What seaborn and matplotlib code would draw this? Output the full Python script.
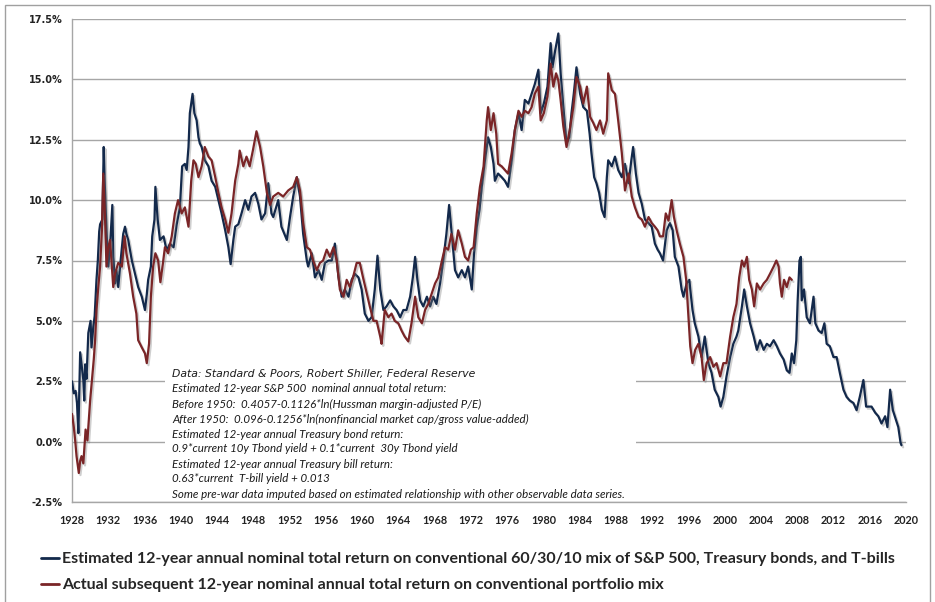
import matplotlib
matplotlib.use("Agg")
import matplotlib.pyplot as plt
import matplotlib.patheffects as pe
from matplotlib.lines import Line2D
from matplotlib.patches import Rectangle
from matplotlib import font_manager as fm
import numpy as np
import pandas as pd
import seaborn as sns

# ---------------- data ----------------
series_names = [
    "Estimated 12-year annual nominal total return on conventional 60/30/10 mix of S&P 500, Treasury bonds, and T-bills",
    "Actual subsequent 12-year nominal annual total return on conventional portfolio mix",
]

est_years = [
    1928.0, 1928.2, 1928.4, 1928.55, 1928.7, 1928.9, 1929.05, 1929.25, 1929.35, 1929.45,
    1929.6, 1929.8, 1930.05, 1930.15, 1930.35, 1930.5, 1930.7, 1930.85, 1931.0, 1931.1,
    1931.35, 1931.5, 1931.6, 1931.8, 1932.0, 1932.2, 1932.45, 1932.55, 1932.75, 1932.9,
    1933.1, 1933.3, 1933.65, 1933.85, 1934.0, 1934.2, 1934.6, 1934.95, 1935.3, 1935.7,
    1936.05, 1936.25, 1936.4, 1936.7, 1936.85, 1937.1, 1937.2, 1937.45, 1937.7, 1938.1,
    1938.45, 1938.8, 1939.2, 1939.55, 1939.9, 1940.15, 1940.45, 1940.65, 1940.85, 1941.0,
    1941.3, 1941.5, 1941.75, 1941.95, 1942.1, 1942.3, 1942.65, 1943.05, 1943.4, 1943.8,
    1944.15, 1944.5, 1944.9, 1945.25, 1945.5, 1945.8, 1946.0, 1946.35, 1946.7, 1947.1,
    1947.45, 1947.8, 1948.2, 1948.55, 1948.9, 1949.3, 1949.65, 1950.0, 1950.2, 1950.75,
    1951.1, 1951.7, 1952.05, 1952.4, 1952.8, 1953.15, 1953.5, 1953.9, 1954.05, 1954.45,
    1954.8, 1955.2, 1955.55, 1955.9, 1956.3, 1956.65, 1957.0, 1957.4, 1957.75, 1958.1,
    1958.5, 1958.85, 1959.2, 1959.6, 1959.95, 1960.3, 1960.7, 1961.05, 1961.4, 1961.7,
    1962.0, 1962.35, 1962.7, 1963.1, 1963.45, 1963.8, 1964.2, 1964.55, 1964.9, 1965.3,
    1965.6, 1965.85, 1966.1, 1966.4, 1966.75, 1967.15, 1967.5, 1967.85, 1968.2, 1968.6,
    1968.95, 1969.3, 1969.6, 1969.85, 1970.25, 1970.6, 1971.0, 1971.35, 1971.7, 1972.1,
    1972.35, 1972.65, 1972.95, 1973.2, 1973.55, 1973.9, 1974.2, 1974.5, 1974.65, 1975.0,
    1975.4, 1975.75, 1976.1, 1976.5, 1976.85, 1977.25, 1977.6, 1977.95, 1978.35, 1978.7,
    1979.05, 1979.45, 1979.7, 1980.05, 1980.45, 1980.8, 1981.0, 1981.3, 1981.65, 1981.9,
    1982.2, 1982.55, 1982.85, 1983.1, 1983.35, 1983.65, 1984.05, 1984.4, 1984.8, 1985.1,
    1985.3, 1985.6, 1985.85, 1986.15, 1986.45, 1986.75, 1987.0, 1987.15, 1987.55, 1987.9,
    1988.25, 1988.65, 1989.0, 1989.4, 1989.7, 1989.9, 1990.2, 1990.5, 1990.85, 1991.2,
    1991.6, 1991.95, 1992.3, 1992.6, 1992.85, 1993.2, 1993.6, 1993.96, 1994.26, 1994.5,
    1994.9, 1995.25, 1995.45, 1995.8, 1996.1, 1996.2, 1996.45, 1996.7, 1997.1, 1997.45,
    1997.8, 1998.2, 1998.55, 1998.9, 1999.3, 1999.55, 1999.85, 2000.2, 2000.6, 2000.95,
    2001.3, 2001.5, 2001.9, 2002.15, 2002.45, 2002.8, 2003.2, 2003.55, 2003.9, 2004.3,
    2004.65, 2005.0, 2005.4, 2005.75, 2006.1, 2006.5, 2006.85, 2007.15, 2007.4, 2007.65,
    2007.9, 2008.05, 2008.25, 2008.4, 2008.5, 2008.75, 2009.05, 2009.4, 2009.8, 2010.0,
    2010.35, 2010.7, 2011.0, 2011.25, 2011.6, 2012.0, 2012.35, 2012.7, 2013.1, 2013.45,
    2013.8, 2014.2, 2014.55, 2014.9, 2015.3, 2015.6, 2015.85, 2016.2, 2016.6, 2016.95,
    2017.3, 2017.7, 2017.95, 2018.25, 2018.55, 2018.9, 2019.15, 2019.4, 2019.5,
]
est_values = [
    2.5, 2.0, 2.1, 1.6, 0.35, 3.7, 3.2, 2.55, 1.7, 3.2,
    2.6, 4.5, 5.0, 3.9, 4.75, 5.2, 6.7, 7.5, 8.7, 9.0,
    9.2, 12.2, 10.8, 8.75, 7.25, 8.1, 9.8, 7.65, 6.55, 7.1,
    6.4, 7.25, 8.6, 8.9, 8.6, 8.35, 7.5, 6.95, 6.4, 6.0,
    5.45, 6.1, 6.7, 7.25, 8.5, 9.2, 10.55, 9.2, 8.35, 8.5,
    7.9, 8.2, 8.05, 9.0, 9.7, 11.4, 11.5, 11.25, 12.2, 13.6,
    14.4, 13.6, 13.3, 12.6, 12.35, 12.2, 11.65, 11.4, 10.8, 10.55,
    10.0, 9.45, 8.75, 8.05, 7.35, 8.35, 8.9, 9.0, 9.45, 10.0,
    9.6, 10.15, 10.3, 9.85, 9.2, 9.45, 10.7, 9.45, 9.3, 10.0,
    8.9, 8.35, 9.3, 10.15, 10.95, 10.15, 8.6, 7.5, 7.25, 7.8,
    6.8, 7.1, 6.7, 7.4, 7.5, 7.5, 8.2, 6.8, 6.0, 6.3,
    6.0, 6.7, 6.95, 6.8, 6.3, 5.3, 5.0, 5.15, 6.3, 7.7,
    6.3, 5.45, 5.6, 5.85, 5.6, 5.45, 5.15, 5.45, 5.45, 6.0,
    6.8, 7.65, 6.7, 5.85, 5.6, 6.0, 5.6, 6.0, 5.7, 6.55,
    7.5, 8.6, 9.8, 8.75, 7.1, 6.8, 7.1, 6.8, 7.25, 6.3,
    7.8, 8.9, 9.6, 10.55, 11.65, 12.6, 12.2, 11.5, 10.8, 11.1,
    10.95, 10.8, 10.55, 11.65, 12.9, 13.6, 12.9, 14.15, 14.0, 14.4,
    14.8, 15.4, 13.6, 14.0, 14.7, 16.5, 15.5, 16.2, 16.9, 15.25,
    13.85, 12.35, 12.6, 13.6, 14.4, 15.5, 14.4, 13.85, 13.7, 12.75,
    11.95, 10.95, 10.7, 10.3, 9.6, 9.3, 10.95, 11.65, 11.4, 11.8,
    11.25, 10.95, 11.5, 10.7, 11.65, 12.2, 11.1, 10.3, 9.85, 9.2,
    9.05, 8.9, 8.2, 7.95, 7.8, 7.5, 8.75, 9.05, 8.75, 7.65,
    7.25, 6.3, 6.0, 6.55, 6.7, 6.3, 5.45, 4.9, 4.35, 3.5,
    4.35, 3.25, 2.85, 2.15, 1.85, 1.45, 1.85, 2.7, 3.5, 4.05,
    4.35, 4.6, 5.6, 6.3, 5.6, 4.9, 4.35, 3.8, 4.2, 3.8,
    4.05, 3.95, 4.2, 3.95, 3.65, 3.4, 2.95, 2.85, 3.65, 3.25,
    4.2, 5.85, 7.5, 7.65, 5.85, 6.3, 5.15, 4.9, 6.0, 4.9,
    4.6, 4.5, 4.9, 4.05, 3.95, 3.5, 3.5, 2.85, 2.15, 1.85,
    1.7, 1.6, 1.3, 1.85, 2.55, 1.45, 1.45, 1.45, 1.2, 1.05,
    0.75, 1.05, 0.6, 2.15, 1.3, 0.9, 0.6, -0.05, -0.15,
]

act_years = [
    1928.0, 1928.2, 1928.35, 1928.5, 1928.75, 1928.9, 1929.05, 1929.25, 1929.5, 1929.7,
    1930.0, 1930.2, 1930.4, 1930.55, 1930.7, 1930.9, 1931.1, 1931.3, 1931.45, 1931.65,
    1931.8, 1932.0, 1932.2, 1932.4, 1932.55, 1932.75, 1933.1, 1933.5, 1933.8, 1934.0,
    1934.4, 1934.75, 1935.1, 1935.3, 1935.7, 1936.05, 1936.25, 1936.5, 1936.7, 1936.95,
    1937.2, 1937.5, 1937.75, 1938.0, 1938.25, 1938.6, 1939.0, 1939.35, 1939.7, 1940.1,
    1940.45, 1940.85, 1941.15, 1941.4, 1941.65, 1941.95, 1942.3, 1942.65, 1943.05, 1943.4,
    1943.8, 1944.15, 1944.5, 1944.9, 1945.25, 1945.6, 1946.0, 1946.35, 1946.5, 1946.9,
    1947.25, 1947.6, 1947.95, 1948.35, 1948.75, 1949.1, 1949.5, 1949.85, 1950.2, 1950.75,
    1951.3, 1951.85, 1952.4, 1952.8, 1953.15, 1953.5, 1953.9, 1954.25, 1954.6, 1955.0,
    1955.35, 1955.7, 1956.1, 1956.45, 1956.85, 1957.2, 1957.55, 1957.95, 1958.3, 1958.65,
    1959.0, 1959.4, 1959.75, 1960.1, 1960.5, 1960.85, 1961.25, 1961.6, 1962.0, 1962.15,
    1962.5, 1962.9, 1963.25, 1963.6, 1964.0, 1964.35, 1964.7, 1965.1, 1965.45, 1965.85,
    1966.2, 1966.6, 1966.95, 1967.3, 1967.7, 1968.05, 1968.4, 1968.75, 1969.15, 1969.5,
    1969.85, 1970.25, 1970.6, 1971.0, 1971.35, 1971.7, 1972.0, 1972.3, 1972.65, 1973.0,
    1973.4, 1973.75, 1973.9, 1974.2, 1974.5, 1974.8, 1975.0, 1975.4, 1975.75, 1976.1,
    1976.5, 1976.85, 1977.25, 1977.6, 1977.95, 1978.35, 1978.7, 1979.05, 1979.45, 1979.7,
    1980.05, 1980.45, 1980.8, 1981.1, 1981.4, 1981.65, 1981.9, 1982.2, 1982.55, 1982.9,
    1983.3, 1983.65, 1984.05, 1984.4, 1984.8, 1985.15, 1985.5, 1985.85, 1986.25, 1986.6,
    1987.0, 1987.15, 1987.55, 1987.9, 1988.25, 1988.65, 1989.0, 1989.4, 1989.75, 1990.1,
    1990.5, 1990.85, 1991.2, 1991.6, 1991.95, 1992.3, 1992.6, 1992.85, 1993.2, 1993.5,
    1993.8, 1994.15, 1994.4, 1994.7, 1995.05, 1995.45, 1995.75, 1996.0, 1996.2, 1996.45,
    1996.75, 1997.1, 1997.45, 1997.7, 1998.0, 1998.4, 1998.75, 1999.1, 1999.5, 1999.85,
    2000.2, 2000.6, 2000.95, 2001.3, 2001.6, 2001.9, 2002.15, 2002.45, 2002.7, 2003.0,
    2003.25, 2003.55, 2003.9, 2004.3, 2004.65, 2005.0, 2005.4, 2005.7, 2005.95, 2006.1,
    2006.3, 2006.55, 2006.85, 2007.15, 2007.4,
]
act_values = [
    1.15, 0.6, 0.05, -0.6, -1.3, -0.8, -0.6, -0.9, 0.5, 0.05,
    1.7, 2.55, 3.4, 4.2, 5.45, 6.4, 7.25, 8.75, 11.1, 9.2,
    7.25, 8.05, 8.35, 7.25, 6.4, 6.95, 7.4, 7.25, 8.5, 7.8,
    6.95, 6.0, 5.3, 4.2, 3.9, 3.65, 3.25, 4.05, 6.0, 7.25,
    7.8, 7.5, 6.6, 7.3, 8.05, 7.8, 8.5, 9.45, 10.0, 9.45,
    9.7, 8.9, 10.8, 11.65, 11.5, 10.95, 11.4, 12.2, 11.8, 11.65,
    10.95, 10.3, 9.7, 9.2, 8.65, 9.45, 10.8, 11.5, 12.05, 11.4,
    11.8, 11.4, 12.05, 12.85, 12.2, 11.4, 10.3, 9.8, 10.15, 10.3,
    10.15, 10.4, 10.55, 10.95, 10.4, 9.05, 8.05, 7.95, 7.5, 7.1,
    7.4, 7.5, 7.95, 7.65, 8.05, 7.5, 6.3, 6.0, 6.7, 6.4,
    6.8, 7.4, 7.4, 6.8, 6.15, 5.6, 5.0, 5.0, 4.35, 4.05,
    5.45, 5.15, 5.3, 5.0, 4.9, 4.6, 4.35, 4.15, 4.9, 6.0,
    5.15, 4.9, 5.45, 5.7, 6.15, 6.55, 6.8, 7.4, 8.05, 7.95,
    8.6, 7.95, 8.75, 8.2, 7.65, 7.5, 7.95, 8.05, 9.45, 10.55,
    11.4, 13.3, 13.85, 12.9, 13.6, 12.75, 11.5, 11.4, 11.25, 11.1,
    11.95, 12.9, 13.7, 13.45, 13.7, 13.6, 13.85, 14.4, 14.7, 13.3,
    13.6, 14.3, 15.65, 14.7, 15.25, 14.95, 14.15, 13.05, 12.2, 12.9,
    13.85, 15.1, 14.7, 14.0, 14.7, 13.45, 13.2, 12.9, 13.3, 12.75,
    13.3, 15.25, 14.55, 14.4, 13.3, 11.95, 10.4, 11.1, 10.15, 9.7,
    9.3, 9.2, 8.9, 9.3, 9.05, 8.9, 8.75, 8.5, 8.5, 9.45,
    9.15, 10.0, 9.3, 8.75, 8.2, 7.65, 6.7, 5.15, 3.95, 3.25,
    3.8, 4.05, 3.5, 2.55, 3.25, 3.5, 3.1, 3.25, 2.7, 3.25,
    3.25, 4.35, 5.15, 5.7, 6.8, 7.5, 7.25, 7.65, 6.7, 6.3,
    5.6, 6.55, 6.3, 6.55, 6.7, 6.95, 7.25, 7.5, 7.25, 6.55,
    6.0, 6.7, 6.4, 6.8, 6.7,
]

y_ticks = [-2.5, 0.0, 2.5, 5.0, 7.5, 10.0, 12.5, 15.0, 17.5]
y_tick_labels = ["-2.5%", "0.0%", "2.5%", "5.0%", "7.5%", "10.0%", "12.5%", "15.0%", "17.5%"]
x_ticks = [1928, 1932, 1936, 1940, 1944, 1948, 1952, 1956, 1960, 1964, 1968, 1972,
           1976, 1980, 1984, 1988, 1992, 1996, 2000, 2004, 2008, 2012, 2016, 2020]
x_tick_labels = [str(v) for v in x_ticks]

note_lines = [
    "Data: Standard & Poors, Robert Shiller, Federal Reserve",
    "Estimated 12-year S&P 500  nominal annual total return:",
    "Before 1950:  0.4057-0.1126*ln(Hussman margin-adjusted P/E)",
    "After 1950:  0.096-0.1256*ln(nonfinancial market cap/gross value-added)",
    "Estimated 12-year annual Treasury bond return:",
    "0.9*current 10y Tbond yield + 0.1*current  30y Tbond yield",
    "Estimated 12-year annual Treasury bill return:",
    "0.63*current  T-bill yield + 0.013",
    "Some pre-war data imputed based on estimated relationship with other observable data series.",
]

# ---------------- styling ----------------
BLUE = "#13294b"
RED = "#7a2527"
GRID = "#a6a6a6"

sns.set_style("white")


def has_font(name):
    try:
        fm.findfont(fm.FontProperties(family=name), fallback_to_default=False)
        return True
    except Exception:
        return False


narrow = "Lato" if has_font("Lato") else "DejaVu Sans"
note_font = "Lato" if has_font("Lato") else "DejaVu Sans"
plt.rcParams["font.family"] = ["DejaVu Sans"]

W, H = 935, 602
fig = plt.figure(figsize=(W / 100, H / 100), dpi=100)
L, R, T, B = 72, 906, 19, 502
ax = fig.add_axes([L / W, 1 - B / H, (R - L) / W, (B - T) / H])

df = pd.concat([
    pd.DataFrame({"year": est_years, "value": est_values, "series": series_names[0]}),
    pd.DataFrame({"year": act_years, "value": act_values, "series": series_names[1]}),
])

shadow = [pe.SimpleLineShadow(offset=(1.2, -1.5), shadow_color="#777777", alpha=0.35), pe.Normal()]
for name, col in zip(series_names, [BLUE, RED]):
    sub = df[df["series"] == name]
    sns.lineplot(data=sub, x="year", y="value", ax=ax, color=col, lw=1.6,
                 estimator=None, sort=False, path_effects=shadow, zorder=3)

ax.set_xlim(1928, 2020)
ax.set_ylim(-2.5, 17.5)
ax.set_yticks(y_ticks)
ax.set_yticklabels(y_tick_labels)
ax.set_xticks(x_ticks)
ax.set_xticklabels(x_tick_labels)
ax.set_xlabel("")
ax.set_ylabel("")
ax.yaxis.grid(True, color=GRID, lw=1.0)
ax.xaxis.grid(False)
ax.set_axisbelow(True)
for s in ["top", "right"]:
    ax.spines[s].set_visible(False)
for s in ["left", "bottom"]:
    ax.spines[s].set_color(GRID)
    ax.spines[s].set_linewidth(1.0)
ax.tick_params(axis="y", length=4, color=GRID, width=1, pad=3, labelsize=7, labelcolor="#222222")
ax.tick_params(axis="x", length=0, pad=9, labelsize=7, labelcolor="#222222")
for lab in ax.get_yticklabels() + ax.get_xticklabels():
    lab.set_fontweight("bold")
for lab in ax.get_xticklabels():
    lab.set_family(narrow)
    lab.set_fontsize(7.8)

# white box behind the note text
box = Rectangle((165 / W, 1 - 499 / H), (636 - 165) / W, (499 - 364) / H,
                transform=fig.transFigure, facecolor="white", edgecolor="none", zorder=1)
ax.add_artist(box)
box.set_transform(fig.transFigure)
for i, line in enumerate(note_lines):
    if i == 0:
        fam, size = "DejaVu Sans", 7.8
    else:
        fam, size = note_font, 8.25
    fig.text(172 / W, 1 - (374 + 15 * i) / H, line, ha="left", va="center",
             family=fam, style="italic", fontsize=size, color="#1a1a1a", zorder=5)

handles = [Line2D([0], [0], color=BLUE, lw=2.0), Line2D([0], [0], color=RED, lw=2.0)]
fig.legend(handles, series_names, loc="upper left", bbox_to_anchor=(41 / W, 1 - 552 / H),
           frameon=False, handlelength=1.15, handletextpad=0.15, labelspacing=0.75,
           borderaxespad=0, borderpad=0,
           prop=dict(family=narrow, weight="bold", size=11.5))

# outer chart border
border = Rectangle((5 / W, -0.02), (930 - 5) / W, 1.02 - 5 / H, transform=fig.transFigure,
                   fill=False, edgecolor="#a0a0a0", lw=1.0)
fig.add_artist(border)

fig.savefig("out.png", dpi=100)
